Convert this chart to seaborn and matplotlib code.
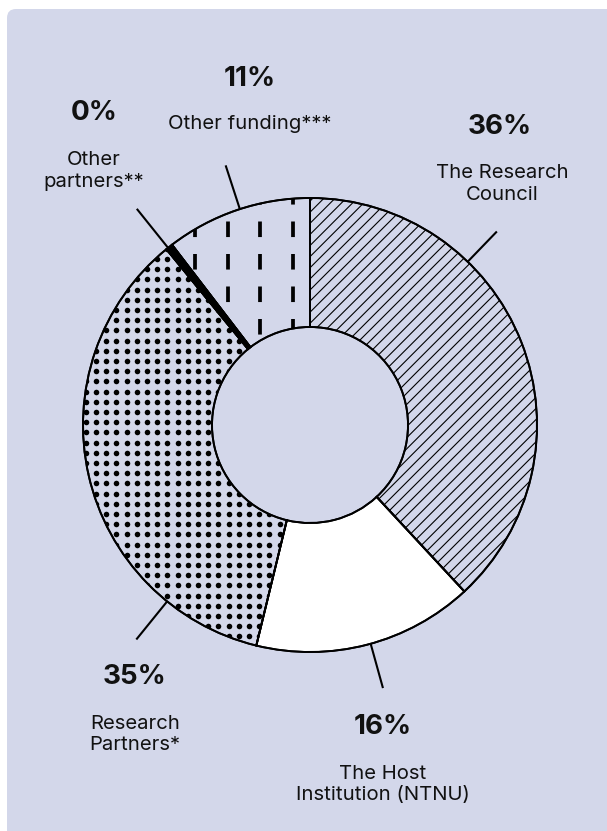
import numpy as np
import matplotlib
matplotlib.use("Agg")
import matplotlib.pyplot as plt
import seaborn as sns
from matplotlib.patches import FancyBboxPatch

# === Data ===
sources = ["The Research\nCouncil", "The Host\nInstitution (NTNU)", "Research\nPartners*",
           "Other\npartners**", "Other funding***"]
shares = [38.1, 15.7, 35.3, 0.5, 10.4]
pct_labels = ["36%", "16%", "35%", "0%", "11%"]

# === Style ===
sns.set_theme(style="white")
plt.rcParams["font.family"] = ["Inter", "DejaVu Sans"]
plt.rcParams["hatch.linewidth"] = 0.8
plt.rcParams["lines.scale_dashes"] = False

BG = "#D3D7EA"
INK = "#111111"
W, H = 607, 831
cx, cy = 310, H - 425
R, RING = 227, 129

fig = plt.figure(figsize=(W / 100, H / 100), dpi=100, facecolor="white")
ax = fig.add_axes([0, 0, 1, 1])

# rounded panel
ax.add_patch(FancyBboxPatch((7, -40), W + 40, H - 9 + 40,
                            boxstyle="round,pad=0,rounding_size=9",
                            facecolor=BG, edgecolor="none", zorder=0))

fills = ["none", "white", "none", "black", "none"]
wedges, _ = ax.pie(shares, startangle=90, counterclock=False, radius=R, center=(cx, cy),
                   colors=fills,
                   wedgeprops=dict(width=RING, edgecolor="black", linewidth=1.3))
for w, fc in zip(wedges, fills):
    w.set_facecolor(fc)
    w.set_zorder(2)
wedges[0].set_hatch("///")

# dotted fill for Research Partners
gx = np.arange(85.7 - 10.2 * 3, W, 10.2)
gy = np.arange(565 - 10.2 * 45, H, 10.2)
xx, yy = np.meshgrid(gx, H - gy)
dots = ax.scatter(xx.ravel(), yy.ravel(), s=16, c="black", linewidths=0, zorder=3)
dots.set_clip_path(wedges[2])

# dashed verticals for Other funding
for x in np.arange(293 - 32.7 * 5, cx, 32.7):
    ln, = ax.plot([x, x], [H - 189, H - 460], color="black", lw=2.7,
                  ls=(0, (11.2, 12.2)), solid_capstyle="butt", zorder=3)
    ln.set_clip_path(wedges[4])

# crisp outlines on top
outl, _ = ax.pie(shares, startangle=90, counterclock=False, radius=R, center=(cx, cy),
                 wedgeprops=dict(width=RING, edgecolor="black", linewidth=1.4,
                                 facecolor="none"))
for w in outl:
    w.set_zorder(4)

# leader lines (angle in degrees, length in px)
leaders = [(46, 42), (-74.5, 46), (231, 49), (128.7, 50), (108, 46)]
for ang, ln_len in leaders:
    a = np.deg2rad(ang)
    ax.plot([cx + R * np.cos(a), cx + (R + ln_len) * np.cos(a)],
            [cy + R * np.sin(a), cy + (R + ln_len) * np.sin(a)],
            color="black", lw=1.5, solid_capstyle="butt", zorder=4)

# labels
pct_pos = [(500, 127), (383, 727), (134, 677), (94, 113), (250, 79)]
name_pos = [(502, 184), (383, 784.5), (135, 734.5), (94, 171), (250, 124)]
for pct, name, (px, py), (nx, ny) in zip(pct_labels, sources, pct_pos, name_pos):
    ax.text(px, H - py, pct, ha="center", va="center", fontsize=20,
            fontweight="bold", color=INK)
    ax.text(nx, H - ny, name, ha="center", va="center", fontsize=14.6,
            color=INK, linespacing=1.25)

ax.set_xlim(0, W)
ax.set_ylim(0, H)
ax.set_aspect("equal")
ax.axis("off")

fig.savefig("out.png", dpi=100, facecolor="white")
